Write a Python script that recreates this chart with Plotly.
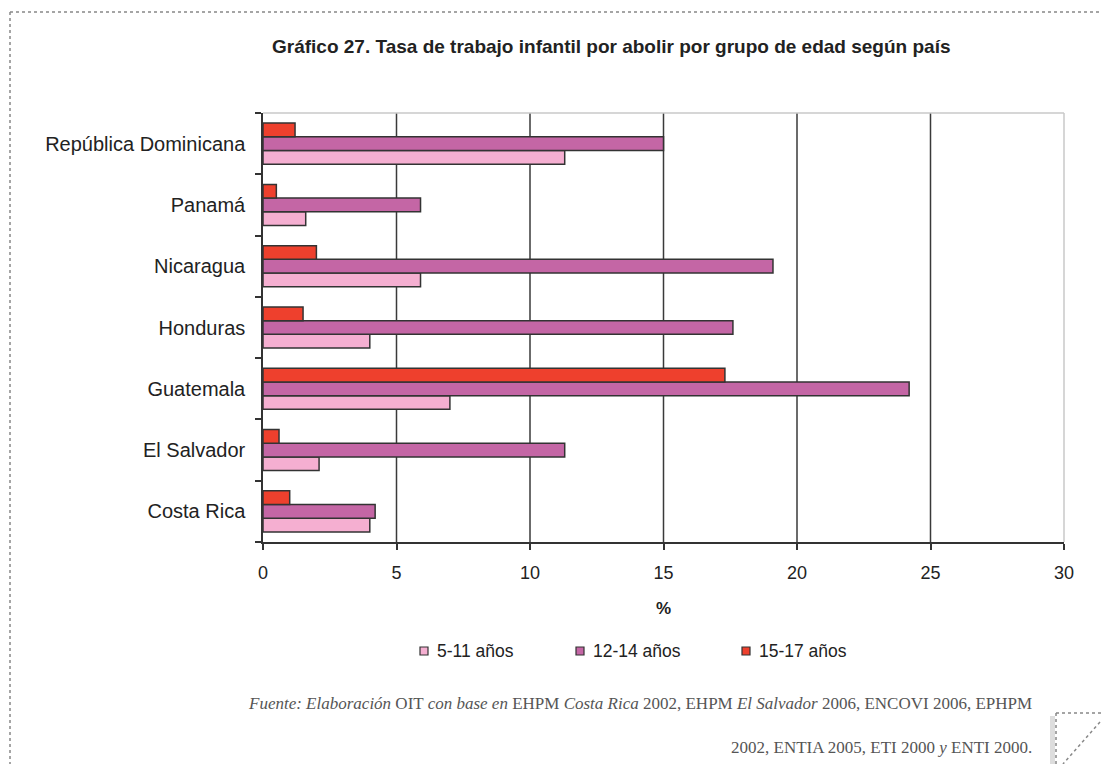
import plotly.graph_objects as go

# Countries (bottom to top) and child-labour rates by age group (%)
countries = ["Costa Rica", "El Salvador", "Guatemala", "Honduras",
             "Nicaragua", "Panamá", "República Dominicana"]
age_5_11 = [4.0, 2.1, 7.0, 4.0, 5.9, 1.6, 11.3]
age_12_14 = [4.2, 11.3, 24.2, 17.6, 19.1, 5.9, 15.0]
age_15_17 = [1.0, 0.6, 17.3, 1.5, 2.0, 0.5, 1.2]
series_names = ["5-11 años", "12-14 años", "15-17 años"]
x_ticks = [0, 5, 10, 15, 20, 25, 30]

W, H = 1101, 764
L, R, T, B = 263, 1064, 113, 542  # plot area in pixels


def px(x):
    return (x - L) / (R - L)


def py(y):
    return (B - y) / (B - T)


colors = ["#F5AFD1", "#C466A5", "#EE402D"]
edge = "#333333"
font_main = "Liberation Sans, Arial, sans-serif"

fig = go.Figure()
for name, vals, col in zip(series_names, [age_5_11, age_12_14, age_15_17], colors):
    fig.add_trace(go.Bar(
        y=countries, x=vals, name=name, orientation="h", showlegend=False,
        marker=dict(color=col, line=dict(color=edge, width=1.5)),
    ))

shapes = []
annotations = []

# vertical gridlines
for v in x_ticks[1:-1]:
    shapes.append(dict(type="line", xref="x", yref="paper", x0=v, x1=v, y0=0, y1=1,
                       line=dict(color="#3a3a3a", width=1.5), layer="below"))
# light plot frame on top and right
shapes.append(dict(type="line", xref="paper", yref="paper", x0=0, x1=1, y0=1, y1=1,
                   line=dict(color="#c8c8c8", width=1.5)))
shapes.append(dict(type="line", xref="paper", yref="paper", x0=1, x1=1, y0=0, y1=1,
                   line=dict(color="#c8c8c8", width=1.5)))

# legend drawn below the axis: small outlined squares with labels
legend_left = [420, 576, 742]
for left, name, col in zip(legend_left, series_names, colors):
    shapes.append(dict(type="rect", xref="paper", yref="paper",
                       x0=px(left), x1=px(left + 8), y0=py(647), y1=py(655),
                       fillcolor=col, line=dict(color=edge, width=1.2)))
    annotations.append(dict(text=name, xref="paper", yref="paper",
                            x=px(left + 15), y=py(651), xanchor="left", yanchor="middle",
                            showarrow=False,
                            font=dict(family=font_main, size=17.5, color="#222222")))

# dotted page frame
dot = dict(color="#888888", width=1.5, dash="dot")
shapes.append(dict(type="line", xref="paper", yref="paper",
                   x0=px(10), x1=px(1101), y0=py(12), y1=py(12), line=dot))
shapes.append(dict(type="line", xref="paper", yref="paper",
                   x0=px(10), x1=px(10), y0=py(12), y1=py(764), line=dot))
# folded corner bottom right
shapes.append(dict(type="rect", xref="paper", yref="paper",
                   x0=px(1050), x1=px(1055), y0=py(716), y1=py(764),
                   fillcolor="#dddddd", line=dict(width=0)))
shapes.append(dict(type="line", xref="paper", yref="paper",
                   x0=px(1056), x1=px(1101), y0=py(713), y1=py(713), line=dot))
shapes.append(dict(type="line", xref="paper", yref="paper",
                   x0=px(1056), x1=px(1056), y0=py(713), y1=py(764), line=dot))
shapes.append(dict(type="line", xref="paper", yref="paper",
                   x0=px(1100), x1=px(1063), y0=py(722), y1=py(764), line=dot))

src_font = dict(family="Liberation Serif, DejaVu Serif, serif", size=17, color="#555555")
annotations += [
    dict(text="<b>Gráfico 27. Tasa de trabajo infantil por abolir por grupo de edad según país</b>",
         xref="paper", yref="paper", x=px(611), y=py(46), xanchor="center", yanchor="middle",
         showarrow=False,
         font=dict(family="Liberation Sans Narrow, Liberation Sans, Arial, sans-serif",
                   size=19, color="#222222")),
    dict(text="<i>Fuente: Elaboración</i> OIT <i>con base en</i> EHPM <i>Costa Rica</i> 2002, "
              "EHPM <i>El Salvador</i> 2006, ENCOVI 2006, EPHPM",
         xref="paper", yref="paper", x=px(1034), y=py(703), xanchor="right", yanchor="middle",
         showarrow=False, font=src_font),
    dict(text="2002, ENTIA 2005, ETI 2000 <i>y</i> ENTI 2000.",
         xref="paper", yref="paper", x=px(1034), y=py(747), xanchor="right", yanchor="middle",
         showarrow=False, font=src_font),
]

fig.update_layout(
    width=W, height=H,
    margin=dict(l=L, r=W - R, t=T, b=H - B, pad=0),
    paper_bgcolor="white", plot_bgcolor="white",
    barmode="group", bargap=0.33, bargroupgap=0,
    font=dict(family=font_main, color="#222222"),
    showlegend=False,
    xaxis=dict(range=[0, 30], tickvals=x_ticks, showgrid=False, zeroline=False,
               showline=True, linecolor="#333333", linewidth=1.5,
               ticks="outside", ticklen=6, tickcolor="#333333", tickwidth=1.5,
               tickfont=dict(size=18, color="#222222"), ticklabelstandoff=8,
               title=dict(text="<b>%</b>", font=dict(size=17, color="#222222"), standoff=20),
               fixedrange=True),
    yaxis=dict(categoryorder="array", categoryarray=countries, showgrid=False,
               zeroline=False, showline=True, linecolor="#333333", linewidth=1.5,
               ticks="outside", tickson="boundaries", ticklen=6, tickcolor="#333333",
               tickwidth=1.5, tickfont=dict(size=20, color="#222222"),
               ticklabelstandoff=12, fixedrange=True),
    shapes=shapes, annotations=annotations,
)

fig.write_html("out.html")
